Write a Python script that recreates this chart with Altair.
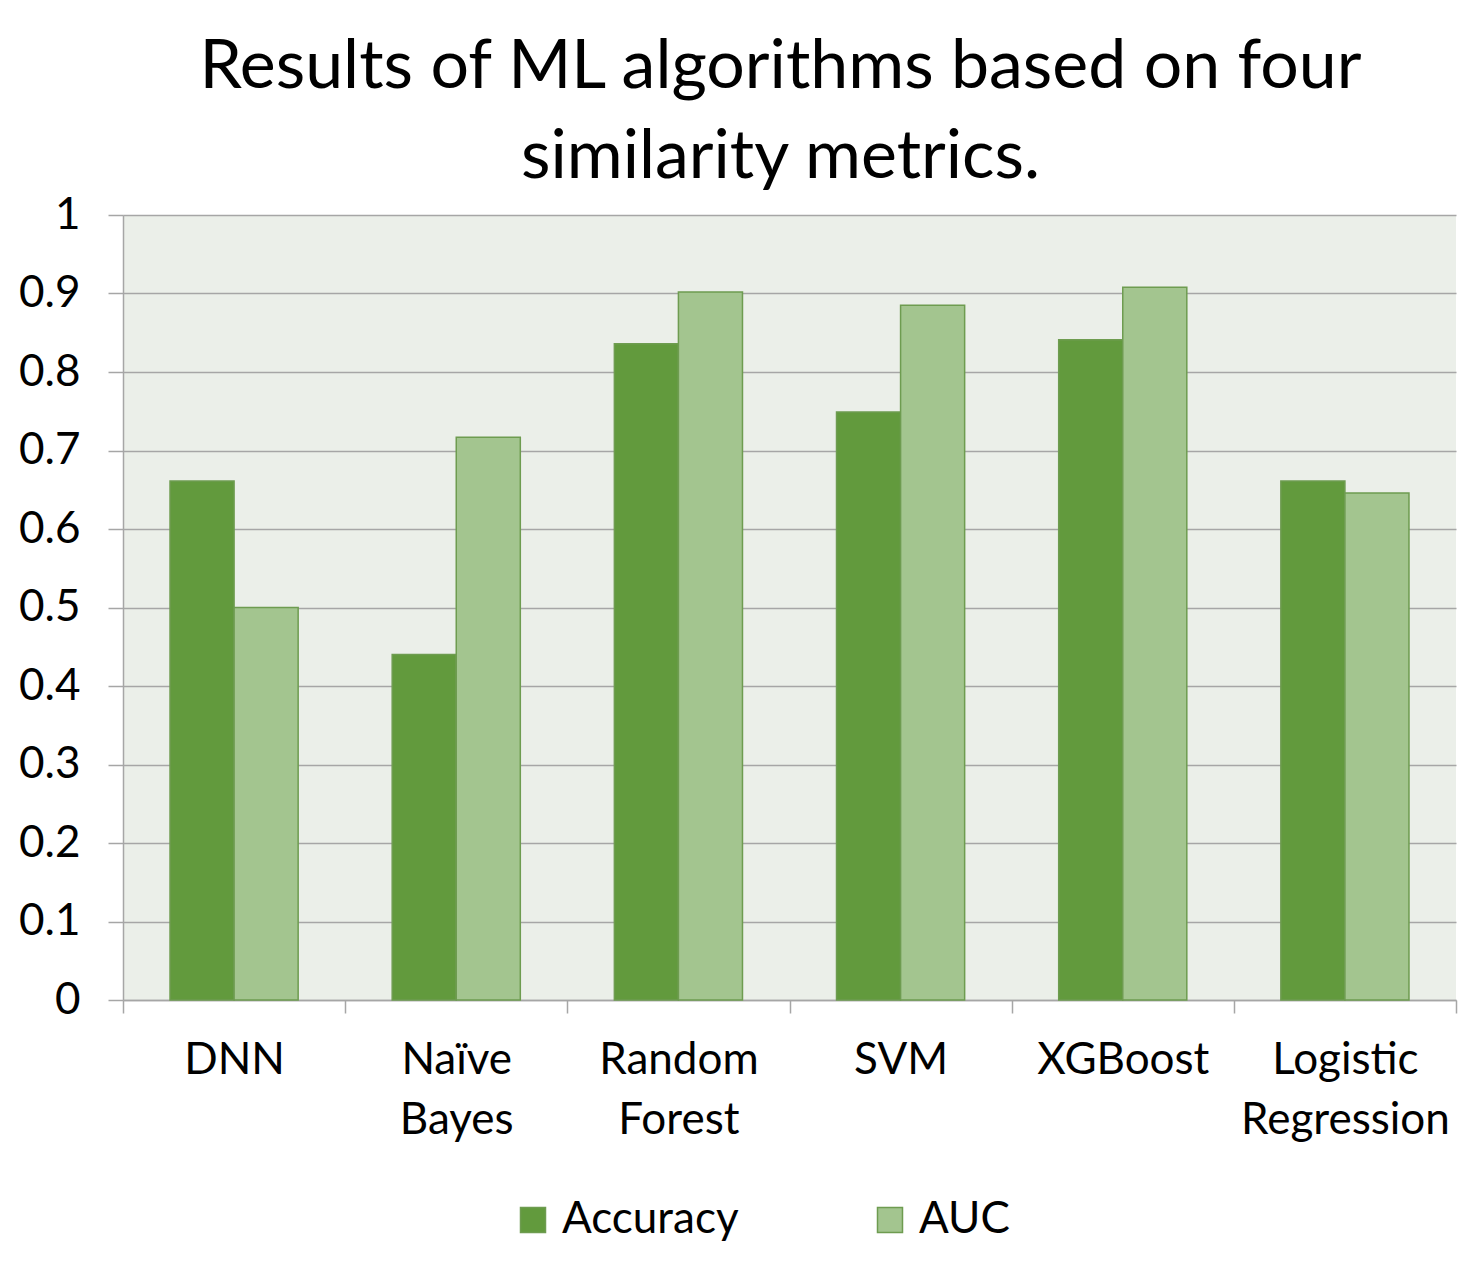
import altair as alt
import pandas as pd

algorithms = ["DNN", "Naïve Bayes", "Random Forest", "SVM", "XGBoost", "Logistic Regression"]
metrics = ["Accuracy", "AUC"]
accuracy = [0.661, 0.440, 0.836, 0.749, 0.841, 0.661]
auc = [0.500, 0.717, 0.902, 0.885, 0.908, 0.646]
y_ticks = [0, 0.1, 0.2, 0.3, 0.4, 0.5, 0.6, 0.7, 0.8, 0.9, 1]
title_lines = ["Results of ML algorithms based on four", "similarity metrics."]
colors = ["#629A3D", "#A3C58F"]

rows = []
for a, acc, au in zip(algorithms, accuracy, auc):
    rows.append({"algorithm": a, "metric": "Accuracy", "value": acc})
    rows.append({"algorithm": a, "metric": "AUC", "value": au})
df = pd.DataFrame(rows)

FONT = "Lato"
GRID = "#A6A6A6"

chart = alt.Chart(df).mark_bar(stroke="#6E9C50", strokeWidth=1.5).encode(
    x=alt.X("algorithm:N", sort=algorithms,
            scale=alt.Scale(paddingInner=0, paddingOuter=0),
            axis=alt.Axis(title=None, labelAngle=0, labelExpr="split(datum.label, ' ')",
                          labelFontSize=44, labelFont=FONT, labelColor="#000000",
                          labelLineHeight=60, labelPadding=25, tickBand="extent",
                          tickSize=13, tickColor=GRID, domainColor=GRID, tickWidth=1.5,
                          domainWidth=1.5, grid=False, labelLimit=400)),
    xOffset=alt.XOffset("metric:N", sort=metrics,
                        scale=alt.Scale(paddingInner=0, paddingOuter=0.734)),
    y=alt.Y("value:Q", scale=alt.Scale(domain=[0, 1], nice=False),
            axis=alt.Axis(title=None, values=y_ticks, format="~g", labelFontSize=44,
                          labelFont=FONT, labelColor="#000000", tickSize=15,
                          labelPadding=28, tickColor=GRID, gridColor=GRID,
                          domainColor=GRID, gridWidth=1.5, tickWidth=1.5,
                          domainWidth=1.5)),
    color=alt.Color("metric:N", sort=metrics,
                    scale=alt.Scale(domain=metrics, range=colors),
                    legend=alt.Legend(title=None, orient="none", legendX=388, legendY=983,
                                      direction="horizontal", symbolType="square",
                                      symbolSize=625, symbolStrokeColor="#6E9C50",
                                      symbolStrokeWidth=1.5, labelFontSize=44,
                                      labelFont=FONT, labelColor="#000000",
                                      columnPadding=129, labelOffset=7, labelLimit=400)),
).properties(
    width=1333, height=785,
    title=alt.TitleParams(text=title_lines, fontSize=68, font=FONT, fontWeight="normal",
                          color="#000000", anchor="middle", offset=1, lineHeight=90,
                          dx=-9),
    autosize=alt.AutoSizeParams(type="none"),
    padding={"left": 115, "top": 207, "right": 10, "bottom": 245},
).configure_view(fill="#EBEFE9", strokeWidth=0)

chart.save("out.html", embed_options={"renderer": "svg", "actions": False})
